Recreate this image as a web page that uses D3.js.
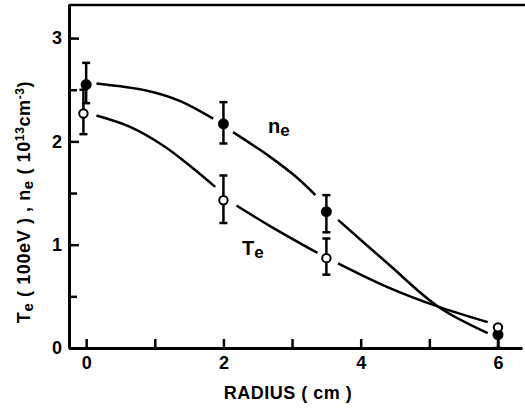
<!DOCTYPE html>
<html>
<head>
<meta charset="utf-8">
<script src="https://cdn.jsdelivr.net/npm/d3@7"></script>
<style>
  body { margin: 0; background: #fff; }
  text { font-family: "Liberation Sans", Arial, sans-serif; font-weight: bold; fill: #000; }
</style>
</head>
<body>
<div id="chart"></div>
<script>
// measured points (radius in cm)
const neRadius = [0, 2, 3.5, 6];
const neVal = [2.55, 2.17, 1.32, 0.13];
const neLo = [2.37, 1.98, 1.12, 0];
const neHi = [2.76, 2.38, 1.48, 0.13];

const teRadius = [-0.04, 2, 3.5, 6];
const teVal = [2.27, 1.43, 0.87, 0.20];
const teLo = [2.07, 1.21, 0.71, null];
const teHi = [2.50, 1.67, 1.06, null];

// fitted curves, in pieces (gaps around the points)
const neFit = [
  [[0.15, 2.56], [0.89, 2.49], [1.37, 2.39], [1.85, 2.22]],
  [[2.14, 2.09], [2.68, 1.85], [3.07, 1.65], [3.34, 1.48]],
  [[3.67, 1.24], [4.39, 0.82], [5.13, 0.40], [5.85, 0.145]]
];
const teFit = [
  [[0.15, 2.25], [0.64, 2.14], [1.12, 1.96], [1.52, 1.76], [1.88, 1.56]],
  [[2.19, 1.38], [2.68, 1.18], [3.37, 0.92]],
  [[3.67, 0.82], [4.39, 0.59], [5.13, 0.40], [5.85, 0.25]]
];

const xTicks = [0, 1, 2, 3, 4, 5, 6];
const xLabels = [0, 2, 4, 6];
const yTicks = [0, 1, 2, 3];
const yMinor = [0.5, 1.5, 2.5];

const svgWidth = 525, svgHeight = 408;

const svg = d3.select("#chart").append("svg")
    .attr("width", svgWidth)
    .attr("height", svgHeight);

const x = d3.scaleLinear().domain([-0.25, 6.35]).range([69, 522]);
const y = d3.scaleLinear().domain([0, 3.33]).range([348, 4]);

// axes
const xAxis = svg.append("g")
    .attr("transform", `translate(0, ${y(0)})`)
    .call(d3.axisBottom(x)
        .tickValues(xTicks)
        .tickSizeInner(-9)
        .tickSizeOuter(0)
        .tickPadding(8)
        .tickFormat(d => xLabels.includes(d) ? d : ""));

const yAxis = svg.append("g")
    .attr("transform", `translate(${x.range()[0]}, 0)`)
    .call(d3.axisLeft(y)
        .tickValues(yTicks)
        .tickSizeInner(-10)
        .tickSizeOuter(0)
        .tickPadding(7)
        .tickFormat(d3.format("d")));

svg.append("g")
    .attr("transform", `translate(${x.range()[0]}, 0)`)
    .call(d3.axisLeft(y).tickValues(yMinor).tickSizeInner(-8).tickSizeOuter(0).tickFormat(""))
    .select(".domain").remove();

svg.selectAll(".domain").attr("stroke-width", 3);
svg.selectAll(".tick line").attr("stroke-width", 2.5);
svg.selectAll(".tick text").style("font-size", "18px");

// top frame line
svg.append("line")
    .attr("x1", x.range()[0]).attr("x2", svgWidth)
    .attr("y1", y(3.33) + 1).attr("y2", y(3.33) + 1)
    .attr("stroke", "#000").attr("stroke-width", 2.5);

// axis titles
svg.append("text")
    .attr("x", 288).attr("y", 399)
    .attr("text-anchor", "middle")
    .style("font-size", "18px")
    .style("letter-spacing", "0.5px")
    .text("RADIUS ( cm )");

const yt = svg.append("text")
    .attr("transform", "translate(30, 202) rotate(-90)")
    .attr("text-anchor", "middle")
    .style("font-size", "18px")
    .style("letter-spacing", "0.6px");
yt.append("tspan").text("T");
yt.append("tspan").attr("dy", 3).style("font-size", "15px").text("e");
yt.append("tspan").attr("dy", -3).text(" ( 100eV ) ,  n");
yt.append("tspan").attr("dy", 3).style("font-size", "15px").text("e");
yt.append("tspan").attr("dy", -3).text(" ( 10");
yt.append("tspan").attr("dy", -6).style("font-size", "12px").text("13");
yt.append("tspan").attr("dy", 6).text("cm");
yt.append("tspan").attr("dy", -6).style("font-size", "12px").text("-3");
yt.append("tspan").attr("dy", 6).text(")");

// fitted curves
const line = d3.line()
    .x(d => x(d[0]))
    .y(d => y(d[1]))
    .curve(d3.curveCatmullRom);

svg.selectAll("path.fit")
    .data(neFit.concat(teFit))
    .join("path")
    .attr("class", "fit")
    .attr("d", line)
    .attr("fill", "none")
    .attr("stroke", "#000")
    .attr("stroke-width", 2.5);

// error bars
function errorBars(rs, lo, hi) {
    const data = rs.map((r, i) => ({ r: r, lo: lo[i], hi: hi[i] })).filter(d => d.lo !== null);
    const g = svg.append("g").attr("stroke", "#000");
    g.selectAll("line.bar")
        .data(data)
        .join("line")
        .attr("x1", d => x(d.r)).attr("x2", d => x(d.r))
        .attr("y1", d => y(d.lo)).attr("y2", d => y(d.hi))
        .attr("stroke-width", 2.5);
    g.selectAll("line.cap")
        .data(data.flatMap(d => [{ r: d.r, v: d.lo }, { r: d.r, v: d.hi }]))
        .join("line")
        .attr("x1", d => x(d.r) - 4).attr("x2", d => x(d.r) + 4)
        .attr("y1", d => y(d.v)).attr("y2", d => y(d.v))
        .attr("stroke-width", 2.5);
}
errorBars(neRadius, neLo, neHi);
errorBars(teRadius, teLo, teHi);

// markers
svg.selectAll("circle.ne")
    .data(neRadius)
    .join("circle")
    .attr("class", "ne")
    .attr("cx", d => x(d))
    .attr("cy", (d, i) => y(neVal[i]))
    .attr("r", 5.5)
    .attr("fill", "#000");

svg.selectAll("circle.te")
    .data(teRadius)
    .join("circle")
    .attr("class", "te")
    .attr("cx", d => x(d))
    .attr("cy", (d, i) => y(teVal[i]))
    .attr("r", 4.2)
    .attr("fill", "#fff")
    .attr("stroke", "#000")
    .attr("stroke-width", 2);

// series labels
const neLabel = svg.append("text").attr("x", 268).attr("y", 133).style("font-size", "20px");
neLabel.append("tspan").text("n");
neLabel.append("tspan").attr("dy", 3).style("font-size", "17px").text("e");

const teLabel = svg.append("text").attr("x", 242).attr("y", 255).style("font-size", "20px");
teLabel.append("tspan").text("T");
teLabel.append("tspan").attr("dy", 3).style("font-size", "17px").text("e");
</script>
</body>
</html>
